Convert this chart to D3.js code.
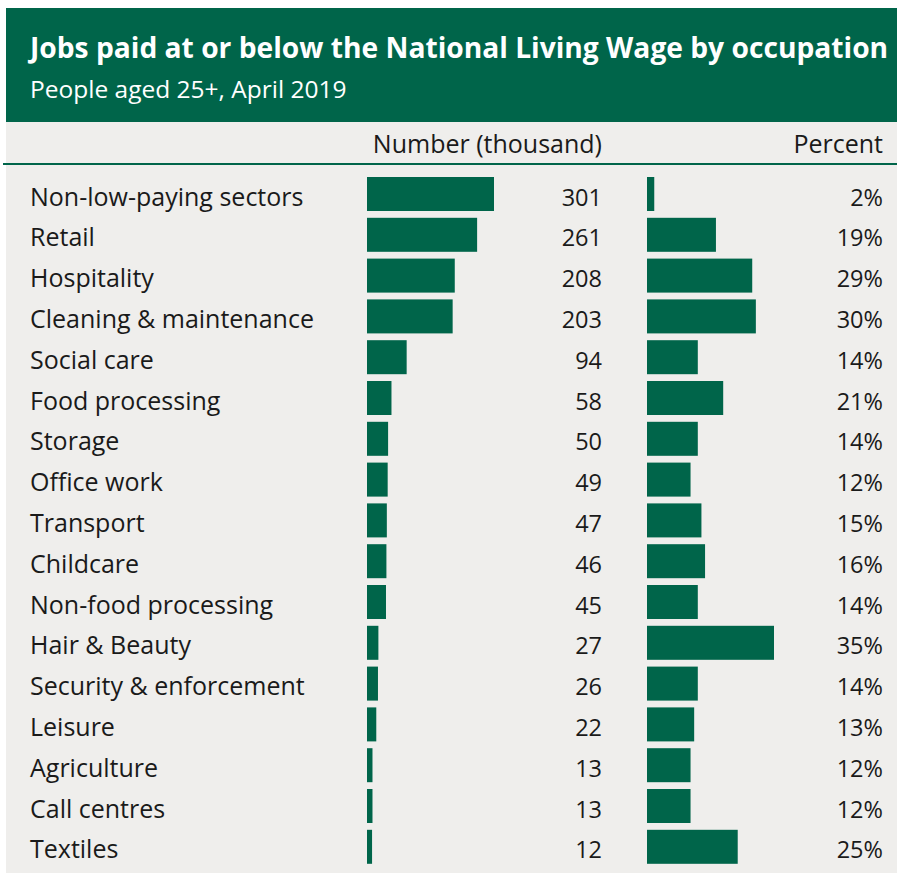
<!DOCTYPE html>
<html>
<head>
<meta charset="utf-8">
<script src="https://cdn.jsdelivr.net/npm/d3@7"></script>
<style>
  html, body { margin: 0; padding: 0; background: #ffffff; }
  svg { display: block; }
</style>
</head>
<body>
<svg id="chart" width="897" height="873"></svg>
<script>
// Occupations, jobs paid at or below the NLW (thousands) and share of jobs (%)
const categories = [
  "Non-low-paying sectors", "Retail", "Hospitality", "Cleaning & maintenance",
  "Social care", "Food processing", "Storage", "Office work", "Transport",
  "Childcare", "Non-food processing", "Hair & Beauty", "Security & enforcement",
  "Leisure", "Agriculture", "Call centres", "Textiles"
];
const numberThousand = [301, 261, 208, 203, 94, 58, 50, 49, 47, 46, 45, 27, 26, 22, 13, 13, 12];
const percentShare   = [2, 19, 29, 30, 14, 21, 14, 12, 15, 16, 14, 35, 14, 13, 12, 12, 25];
const columnHeads = ["Number (thousand)", "Percent"];

const title = "Jobs paid at or below the National Living Wage by occupation";
const subtitle = "People aged 25+, April 2019";

const green = "#00654a";
const panel = "#efeeec";
const ink = "#1a1a1a";
const bodyFont = "'Open Sans', sans-serif";

const svg = d3.select("#chart");
const W = 897, H = 873;

// grey panel and green title band
svg.append("rect").attr("x", 6).attr("y", 122).attr("width", W - 6).attr("height", H - 122).attr("fill", panel);
svg.append("rect").attr("x", 6).attr("y", 8).attr("width", W - 6).attr("height", 114).attr("fill", green);

svg.append("text").attr("x", 30).attr("y", 58)
  .attr("fill", "#ffffff").attr("font-family", bodyFont).attr("font-weight", 700)
  .attr("font-size", 28.2).text(title);
svg.append("text").attr("x", 30).attr("y", 98)
  .attr("fill", "#ffffff").attr("font-family", bodyFont)
  .attr("font-size", 24.5).text(subtitle);

// rule below the column headings
svg.append("line").attr("x1", 3).attr("x2", W).attr("y1", 164).attr("y2", 164)
  .attr("stroke", green).attr("stroke-width", 2);

const headY = 153;
svg.append("text").attr("x", 602).attr("y", headY).attr("text-anchor", "end")
  .attr("font-family", bodyFont).attr("font-size", 25).attr("fill", ink).text(columnHeads[0]);
svg.append("text").attr("x", 883).attr("y", headY).attr("text-anchor", "end")
  .attr("font-family", bodyFont).attr("font-size", 25).attr("fill", ink).text(columnHeads[1]);

const rows = categories.map((c, i) => ({ cat: c, num: numberThousand[i], pct: percentShare[i] }));

const y = d3.scaleBand().domain(categories)
  .range([173.6, 173.6 + categories.length * 40.8])
  .paddingInner(1 / 6).paddingOuter(1 / 12);

const xNum = d3.scaleLinear().domain([0, d3.max(numberThousand)]).range([0, 127]);
const xPct = d3.scaleLinear().domain([0, d3.max(percentShare)]).range([0, 127]);

const numX0 = 367, pctX0 = 647;

const g = svg.append("g");
const row = g.selectAll("g.row").data(rows).join("g").attr("class", "row")
  .attr("transform", d => `translate(0,${y(d.cat)})`);

const base = y.bandwidth() / 2 + 11.5;

row.append("text").attr("x", 30).attr("y", base)
  .attr("font-family", bodyFont).attr("font-size", 25).attr("fill", ink).text(d => d.cat);

row.append("rect").attr("x", numX0).attr("y", 0)
  .attr("width", d => xNum(d.num)).attr("height", y.bandwidth()).attr("fill", green);
row.append("text").attr("x", 602).attr("y", base).attr("text-anchor", "end")
  .attr("font-family", bodyFont).attr("font-size", 23.5).attr("fill", ink).text(d => d.num);

row.append("rect").attr("x", pctX0).attr("y", 0)
  .attr("width", d => xPct(d.pct)).attr("height", y.bandwidth()).attr("fill", green);
row.append("text").attr("x", 883).attr("y", base).attr("text-anchor", "end")
  .attr("font-family", bodyFont).attr("font-size", 23.5).attr("fill", ink).text(d => d.pct + "%");
</script>
</body>
</html>
